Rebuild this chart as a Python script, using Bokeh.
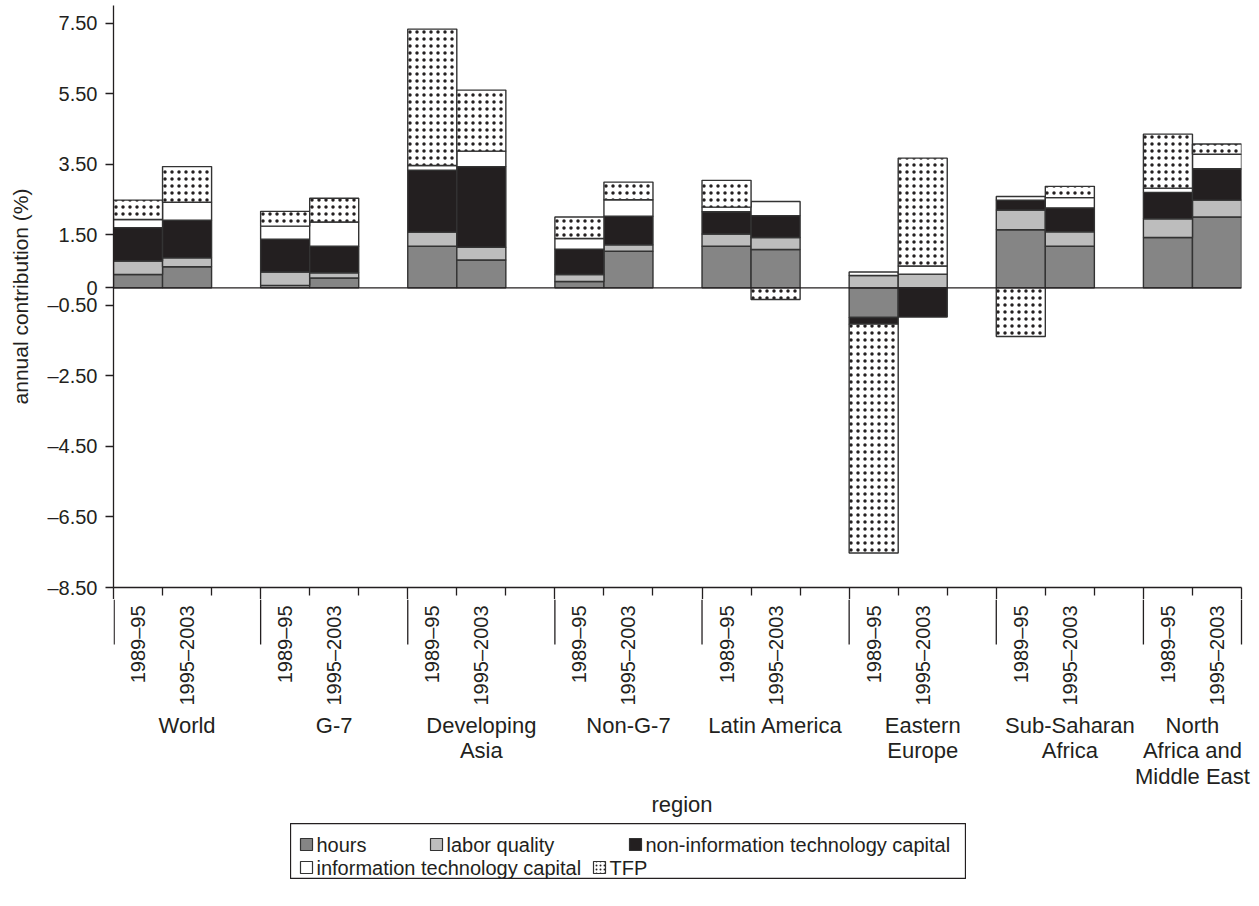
import numpy as np
from bokeh.plotting import figure
from bokeh.models import (FixedTicker, CustomJSTickFormatter, Span, ColumnDataSource,
                          Range1d, Spacer)
from bokeh.layouts import column, row
from bokeh.embed import file_html
from bokeh.resources import INLINE
from bokeh.core.properties import value

# ---------------- data ----------------
regions = ["World", "G-7", "Developing\nAsia", "Non-G-7", "Latin America",
           "Eastern\nEurope", "Sub-Saharan\nAfrica", "North\nAfrica and\nMiddle East"]
periods = ["1989–95", "1995–2003"]
components = ["hours", "labor quality", "non-information technology capital",
              "information technology capital", "TFP"]

# order: region by region, 1989–95 then 1995–2003
hours          = [0.38, 0.60, 0.07, 0.28, 1.18, 0.79, 0.18, 1.04, 1.18, 1.09, -0.84, 0.00, 1.65, 1.18, 1.43, 2.01]
labor_quality  = [0.38, 0.25, 0.38, 0.15, 0.40, 0.36, 0.20, 0.18, 0.35, 0.34, 0.35, 0.39, 0.56, 0.41, 0.53, 0.48]
non_it_capital = [0.95, 1.07, 0.93, 0.75, 1.76, 2.29, 0.72, 0.81, 0.63, 0.62, -0.19, -0.83, 0.28, 0.68, 0.75, 0.89]
it_capital     = [0.23, 0.51, 0.37, 0.69, 0.13, 0.44, 0.30, 0.47, 0.13, 0.40, 0.10, 0.23, 0.10, 0.29, 0.12, 0.41]
tfp            = [0.55, 1.01, 0.42, 0.67, 3.87, 1.73, 0.61, 0.50, 0.76, -0.33, -6.49, 3.06, -1.38, 0.32, 1.53, 0.29]

y_ticks = [-8.5, -6.5, -4.5, -2.5, -0.5, 0, 1.5, 3.5, 5.5, 7.5]

# ---------------- style ----------------
FONT = "Liberation Sans"
INK = "#231F20"
FS = "20px"        # tick / period labels
FS_REG = "22px"    # region labels and axis titles
FS_LEG = "20px"
fills = ["#858585", "#BDBDBD", "#231F20", "#FFFFFF", "#FFFFFF"]
hatches = [None, None, None, None, "dot"]
LINE_W = 1.3

# ---------------- geometry from data ----------------
n_reg = len(regions)
n_per = len(periods)
slot = n_per + 1                      # two bars + one gap per region
n_slots = slot * n_reg - 1            # last region has no trailing gap
x_bar = np.array([slot * i + j + 0.5 for i in range(n_reg) for j in range(n_per)])
bar_text = [periods[j] for i in range(n_reg) for j in range(n_per)]

vals = np.array([hours, labor_quality, non_it_capital, it_capital, tfp])
pos = np.clip(vals, 0, None)
neg = np.clip(vals, None, 0)
pos_top = np.cumsum(pos, axis=0)
pos_bot = pos_top - pos
neg_bot = np.cumsum(neg, axis=0)
neg_top = neg_bot - neg
tops = np.where(vals >= 0, pos_top, neg_top)
bots = np.where(vals >= 0, pos_bot, neg_bot)

group_starts = [slot * i for i in range(n_reg)]
group_ends = [min(slot * i + slot, n_slots) for i in range(n_reg)]
group_mid = [(a + b) / 2 for a, b in zip(group_starts, group_ends)]
major = sorted(set(group_starts + [n_slots]))
minor = [s for s in range(n_slots + 1) if s not in major]

# ---------------- main plot ----------------
W = 1243
ML, MR, MT = 113, 2, 5
TICK1 = 12                      # part of the long ticks drawn by the axis itself
y_lo, y_hi = -8.5, 8.01
FRAME_H = 582
H = MT + FRAME_H + TICK1
ppx = (W - ML - MR) / n_slots

p = figure(width=W, height=H, x_range=Range1d(0, n_slots), y_range=Range1d(y_lo, y_hi),
           output_backend="svg", toolbar_location=None,
           min_border_left=ML, min_border_right=MR, min_border_top=MT, min_border_bottom=TICK1)
p.outline_line_color = None
p.grid.visible = False

for k, name in enumerate(components):
    src = ColumnDataSource(dict(x=x_bar, top=tops[k], bottom=bots[k]))
    kw = dict(hatch_pattern=hatches[k], hatch_color=INK, hatch_scale=7, hatch_weight=2) if hatches[k] else {}
    p.vbar(x="x", top="top", bottom="bottom", width=1.0, source=src,
           fill_color=fills[k], line_color="#333333", line_width=1.4, **kw)

p.add_layout(Span(location=0, dimension="width", line_color=INK, line_width=1.4))

ya = p.yaxis[0]
ya.ticker = FixedTicker(ticks=y_ticks, minor_ticks=[])
ya.formatter = CustomJSTickFormatter(code="""
  if (Math.abs(tick) < 1e-9) return "0";
  const s = Math.abs(tick).toFixed(2);
  return tick < 0 ? "\u2013" + s : s;
""")
ya.major_tick_out = 8
ya.major_tick_in = 0
ya.minor_tick_out = 0
ya.minor_tick_in = 0
ya.major_label_standoff = 8
ya.major_label_text_font = FONT
ya.major_label_text_font_size = FS
ya.major_label_text_color = INK
ya.axis_line_color = INK
ya.axis_line_width = LINE_W
ya.major_tick_line_color = INK
ya.major_tick_line_width = LINE_W
ya.axis_label = "annual contribution (%)"
ya.axis_label_text_font = FONT
ya.axis_label_text_font_style = "normal"
ya.axis_label_text_font_size = "21px"
ya.axis_label_text_color = INK
ya.axis_label_standoff = 12

xa = p.xaxis[0]
xa.ticker = FixedTicker(ticks=major, minor_ticks=minor)
xa.formatter = CustomJSTickFormatter(code="return ''")
xa.major_tick_out = TICK1
xa.major_tick_in = 0
xa.minor_tick_out = 8
xa.minor_tick_in = 0
xa.major_tick_line_color = INK
xa.minor_tick_line_color = INK
xa.major_tick_line_width = LINE_W
xa.minor_tick_line_width = LINE_W
xa.axis_line_color = INK
xa.axis_line_width = LINE_W
xa.major_label_text_font_size = "0px"
xa.major_label_standoff = 0

# ---------------- category labels below the axis ----------------
QW = 1252
QMR = MR
PAD_R = (QW - QMR) - (W - MR)    # extra room right of the last bar for wide labels
LAB_H = 191
LAB_B = 33
q = figure(width=QW, height=LAB_H + LAB_B,
           x_range=Range1d(0, n_slots + PAD_R / ppx), y_range=Range1d(LAB_H, 0),
           output_backend="svg", toolbar_location=None, y_axis_location=None,
           min_border_left=ML, min_border_right=QMR, min_border_top=0,
           min_border_bottom=LAB_B)
q.outline_line_color = None
q.grid.visible = False
# keep the first long tick fully inside the strip (it continues the y axis line)
tick_x = [max(m, (LINE_W / 2) / ppx) for m in major]
q.segment(x0=tick_x, x1=tick_x, y0=[0] * len(major), y1=[57 - TICK1] * len(major),
          line_color=INK, line_width=LINE_W)
q.text(x=x_bar, y=[6] * len(x_bar), text=bar_text, angle=np.pi / 2,
       text_align="right", text_baseline="middle",
       text_font=value(FONT), text_font_size=value(FS), text_color=INK)
q.text(x=group_mid, y=[113] * n_reg, text=regions, text_align="center", text_baseline="top",
       text_line_height=1.03, text_font=value(FONT), text_font_size=value(FS_REG), text_color=INK)
qa = q.xaxis[0]
qa.ticker = FixedTicker(ticks=[])
qa.axis_line_color = None
qa.major_tick_line_color = None
qa.minor_tick_line_color = None
qa.major_label_text_font_size = "0px"
qa.major_label_standoff = 0
qa.axis_label = "region"
qa.axis_label_text_font = FONT
qa.axis_label_text_font_style = "normal"
qa.axis_label_text_font_size = FS_REG
qa.axis_label_text_color = INK
qa.axis_label_standoff = 1

# ---------------- legend box ----------------
LX, LW, LH = 290, 676, 56
lf = figure(width=LW, height=LH, x_range=Range1d(0, LW), y_range=Range1d(LH, 0),
            output_backend="svg", toolbar_location=None, min_border=0,
            x_axis_location=None, y_axis_location=None)
lf.grid.visible = False
lf.outline_line_color = INK
lf.outline_line_width = LINE_W
leg_x = [10, 140, 339, 10, 303]      # left edge of each swatch in the box
leg_y = [21, 21, 21, 44, 44]
SW = 12
for k, name in enumerate(components):
    kw = dict(hatch_pattern=hatches[k], hatch_color=INK, hatch_scale=4, hatch_weight=1) if hatches[k] else {}
    lf.rect(x=[leg_x[k] + SW / 2], y=[leg_y[k]], width=SW, height=SW, fill_color=fills[k],
            line_color="#333333", line_width=1.2, **kw)
    lf.text(x=[leg_x[k] + SW + 4], y=[leg_y[k]], text=[name], text_align="left", text_baseline="middle",
            text_font=value(FONT), text_font_size=value(FS_LEG), text_color=INK)

layout = column(p, q, row(Spacer(width=LX, height=LH), lf))
open("out.html", "w").write(file_html(layout, INLINE))
